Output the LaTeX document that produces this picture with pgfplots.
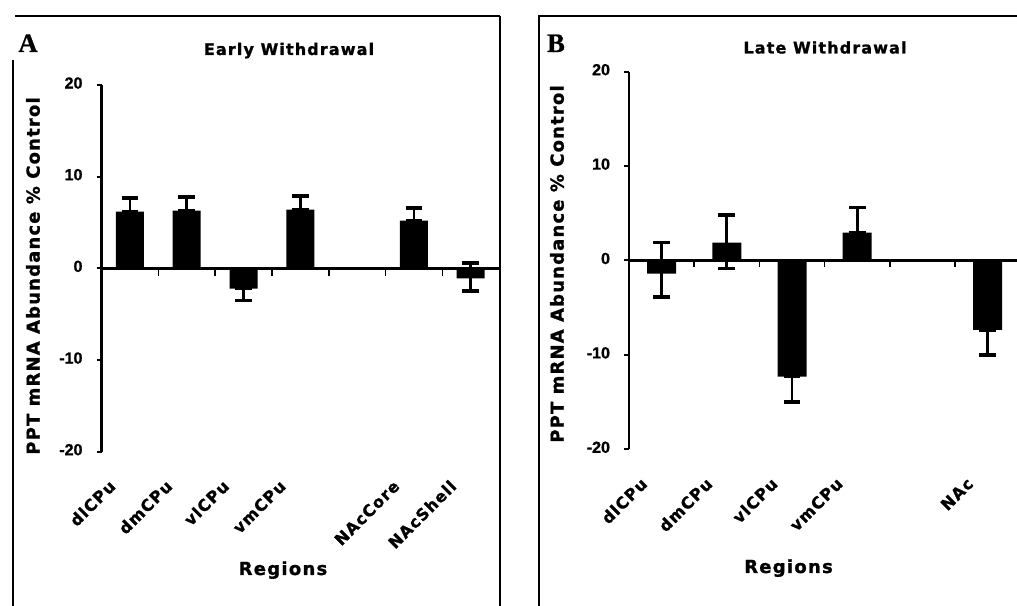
\documentclass[border=0pt]{standalone}
\usepackage{pgfplots}
\pgfplotsset{compat=1.18}
\usepackage{pgfplotstable}
\usepackage{fontspec}
\setmainfont{Liberation Sans}
\newfontfamily\labfont[LetterSpace=7, FakeBold=1.2]{DejaVu Sans Bold}
\newfontfamily\tickfont[FakeBold=1]{Liberation Sans Bold}
\newfontfamily\panelfont[FakeBold=0.8]{Liberation Serif Bold}

% Panel A: Early Withdrawal (x index, value, error plus, error minus)
\pgfplotstableread{
x y ep em
0 6.2 1.5 0
1 6.3 1.5 0
2 -2.2 0 1.3
3 6.4 1.5 0
5 5.2 1.4 0
6 -1.1 1.7 1.4
}\dataA
% Panel B: Late Withdrawal
\pgfplotstableread{
x y ep em
0 -1.4 3.3 2.45
1 1.9 2.9 2.75
2 -12.3 0 2.7
3 2.95 2.65 0
5 -7.35 0 2.65
}\dataB

\begin{document}
\begin{tikzpicture}[x=0.75pt,y=0.75pt]
\path[use as bounding box] (0,0) rectangle (1017,606);
% frames
\draw[line width=1.9pt] (15,590) -- (500,590);
\draw[line width=1.9pt] (13,546) -- (13,0);
\draw[line width=1.9pt] (500,590) -- (500,0);
\draw[line width=1.9pt] (539,0) -- (539,590) -- (1017,590);

\pgfplotsset{myaxis/.style={
  scale only axis, anchor=south west,
  axis y line=left, axis x line=bottom,
  y axis line style={-, line width=2pt},
  x axis line style={draw=none},
  ymin=-20, ymax=20, ytick={-20,-10,0,10,20},
  tick align=outside, major tick length=3.75pt,
  ytick style={line width=1.5pt, black},
  xtick style={draw=none},
  /pgf/number format/assume math mode=true,
  yticklabel style={font=\tickfont\fontsize{12}{14}\selectfont, xshift=-7pt, yshift=1.5pt},
  xticklabel style={font=\labfont\fontsize{12}{14}\selectfont, xshift=-10.7pt, yshift=-17.5pt, rotate=45, anchor=east},
  clip=false,
}}

% ---------- Panel A ----------
\node[font=\panelfont\fontsize{20}{22}\selectfont, anchor=base] at (28,554) {A};
\node[font=\labfont\fontsize{12}{14}\selectfont, anchor=base] at (289,551) {Early Withdrawal};
\node[font=\labfont\fontsize{13.4}{15}\selectfont, rotate=90] at (33,330) {PPT mRNA Abundance \% Control};
\node[font=\labfont\fontsize{13.5}{15}\selectfont, anchor=base] at (283,31) {Regions};
\begin{axis}[myaxis, at={(76.125pt,115.725pt)}, width=298.2pt, height=275pt,
  xmin=-0.5, xmax=6.5, xtick={0,1,2,3,5,6},
  xticklabels={dlCPu,dmCPu,vlCPu,vmCPu,NAcCore,NAcShell}]
\addplot[ybar, bar width=21pt, fill=black, draw=none,
  error bars/.cd, y dir=both, y explicit,
  error bar style={draw=black, line width=2pt},
  error mark options={rotate=90, draw=black, mark size=6.25pt, line width=2.8pt}]
  table[x=x, y=y, y error plus=ep, y error minus=em] {\dataA};
\addplot[black, line width=2pt, mark=none] coordinates {(-0.5,0) (6.5,0)};
\addplot[ycomb, black, line width=1.2pt, mark=none] coordinates {(0.5,-0.8) (1.5,-0.8) (2.5,-0.8) (3.5,-0.8) (4.5,-0.8) (5.5,-0.8)};
\end{axis}

% ---------- Panel B ----------
\node[font=\panelfont\fontsize{20}{22}\selectfont, anchor=base] at (556,554) {B};
\node[font=\labfont\fontsize{12}{14}\selectfont, anchor=base] at (825,552.5) {Late Withdrawal};
\node[font=\labfont\fontsize{13.4}{15}\selectfont, rotate=90] at (557,342) {PPT mRNA Abundance \% Control};
\node[font=\labfont\fontsize{13.5}{15}\selectfont, anchor=base] at (788.5,33) {Regions};
\begin{axis}[myaxis, at={(471.75pt,117.525pt)}, width=291pt, height=283.2pt,
  xmin=-0.5, xmax=5.45, xtick={0,1,2,3,5},
  xticklabels={dlCPu,dmCPu,vlCPu,vmCPu,NAc}]
\addplot[ybar, bar width=21.75pt, fill=black, draw=none,
  error bars/.cd, y dir=both, y explicit,
  error bar style={draw=black, line width=2pt},
  error mark options={rotate=90, draw=black, mark size=6.25pt, line width=2.8pt}]
  table[x=x, y=y, y error plus=ep, y error minus=em] {\dataB};
\addplot[black, line width=2pt, mark=none] coordinates {(-0.5,0) (5.45,0)};
\addplot[ycomb, black, line width=1.2pt, mark=none] coordinates {(0.5,-0.65) (1.5,-0.65) (2.5,-0.65) (3.5,-0.65) (4.5,-0.65)};
\end{axis}
\end{tikzpicture}
\end{document}
